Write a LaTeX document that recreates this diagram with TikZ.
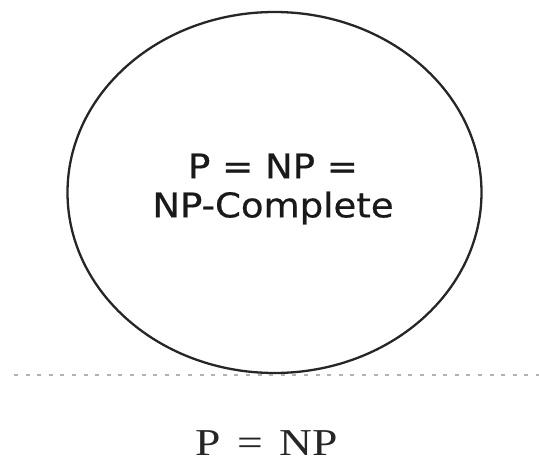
\documentclass[tikz,border=0pt]{standalone}
\usepackage{fontspec}
\usetikzlibrary{shapes.geometric}
\newfontfamily\innerfont[FakeStretch=1.09,FakeBold=0.6]{DejaVu Sans}
\newfontfamily\botfont[FakeStretch=1.2,WordSpace=1.45]{Liberation Serif}
\tikzset{
  setline/.style={draw=black!85, line width=2.3pt},
  sepline/.style={draw=black!30, line width=1.8pt, dash pattern=on 4pt off 7.6pt},
  innerlabel/.style={font=\innerfont\fontsize{34}{39}\selectfont, text=black!90, align=center, inner sep=0pt},
  botlabel/.style={font=\botfont\fontsize{38}{42}\selectfont, text=black!85, inner sep=0pt, anchor=base}
}
\begin{document}
\begin{tikzpicture}[x=1pt,y=-1pt]
  \useasboundingbox (0,0) rectangle (539,463);
  \node[setline, ellipse, minimum width=414pt, minimum height=361pt, inner sep=0pt] (set) at (274.5,192.5) {};
  \node[innerlabel] (inner) at (273,189) {P = NP =\\NP-Complete};
  \coordinate (l) at (14,375);
  \coordinate (r) at (539,375);
  \draw[sepline] (l) -- (r);
  \node[botlabel] (bot) at (267,455) {P = NP};
\end{tikzpicture}
\end{document}
